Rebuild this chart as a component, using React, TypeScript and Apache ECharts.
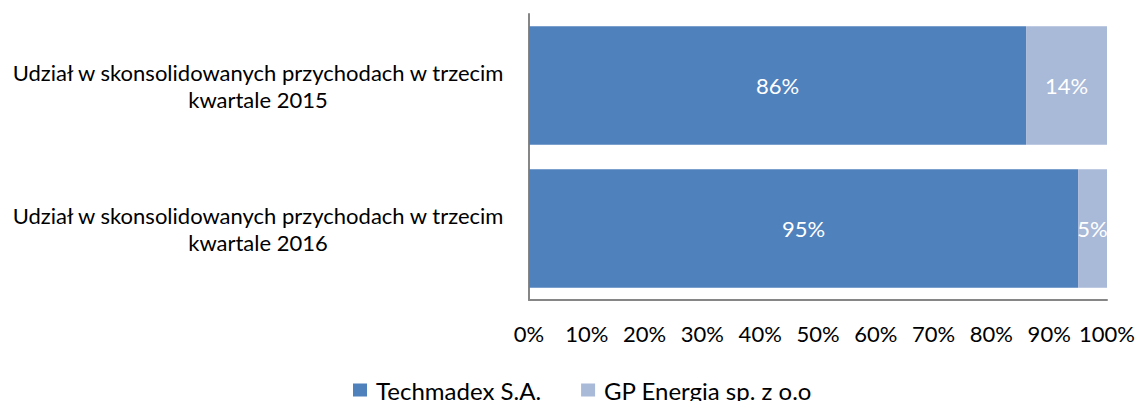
import React, { useEffect, useRef } from "react";
import * as echarts from "echarts";

const categories = [
  "Udział w skonsolidowanych przychodach w trzecim kwartale 2015",
  "Udział w skonsolidowanych przychodach w trzecim kwartale 2016",
];
const seriesNames = ["Techmadex S.A.", "GP Energia sp. z o.o"];
const techmadex = [86, 95];
const gpEnergia = [14, 5];
const colors = ["#4F81BD", "#A9B9D8"];

export default function App() {
  const ref = useRef<HTMLDivElement>(null);
  useEffect(() => {
    document.body.style.margin = "0";
    const chart = echarts.init(ref.current!, null, { renderer: "svg" });
    const font = "Lato, 'Open Sans', sans-serif";
    const label = {
      show: true,
      position: "inside" as const,
      color: "#fff",
      fontSize: 22,
      fontFamily: font,
      formatter: (p: any) => p.value + "%",
    };
    chart.setOption({
      animation: false,
      textStyle: { fontFamily: font },
      grid: { left: 529, right: 33, top: 14, bottom: 101, containLabel: false },
      legend: {
        top: 378,
        left: 353,
        padding: 0,
        itemWidth: 14,
        itemHeight: 13,
        itemGap: 40,
        icon: "rect",
        textStyle: {
          fontSize: 24,
          color: "#000",
          fontFamily: font,
          padding: [0, 0, 0, 4],
        },
        data: seriesNames,
      },
      xAxis: {
        type: "value",
        min: 0,
        max: 100,
        interval: 10,
        axisLine: { show: true, lineStyle: { color: "#868686", width: 2 } },
        axisTick: { show: false },
        splitLine: { show: false },
        axisLabel: {
          formatter: "{value}%",
          fontSize: 22,
          color: "#000",
          margin: 22,
          fontFamily: font,
        },
      },
      yAxis: {
        type: "category",
        inverse: true,
        data: categories,
        axisLine: { show: true, lineStyle: { color: "#868686", width: 2 } },
        axisTick: { show: false },
        axisLabel: {
          margin: 271,
          align: "center",
          fontSize: 22,
          lineHeight: 27,
          color: "#000",
          fontFamily: font,
          formatter: (v: string) => v.replace(" kwartale", "\nkwartale"),
        },
      },
      series: [
        {
          name: seriesNames[0],
          type: "bar",
          stack: "total",
          barCategoryGap: "17%",
          itemStyle: { color: colors[0] },
          label,
          data: techmadex,
        },
        {
          name: seriesNames[1],
          type: "bar",
          stack: "total",
          itemStyle: { color: colors[1] },
          label,
          data: gpEnergia,
        },
      ],
    });
    return () => chart.dispose();
  }, []);
  return <div ref={ref} style={{ width: 1140, height: 401 }} />;
}
